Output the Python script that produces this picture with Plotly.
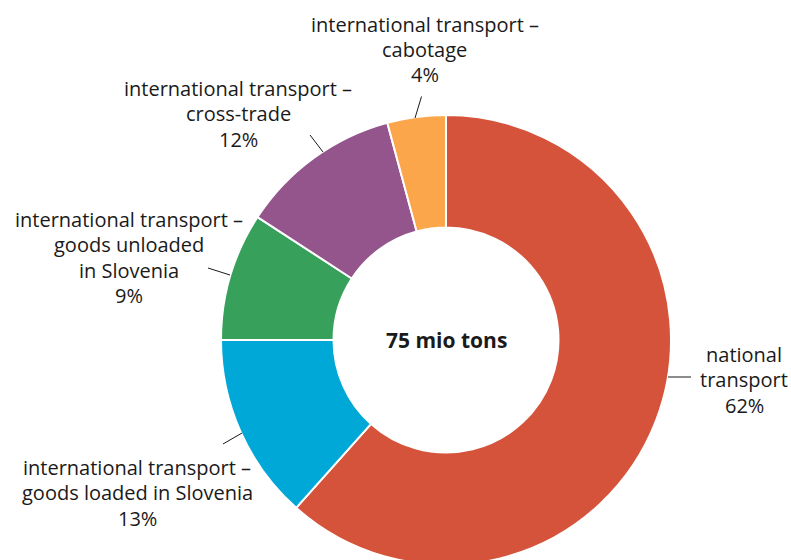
import plotly.graph_objects as go

# ---- data ----
categories = [
    "national transport",
    "international transport – goods loaded in Slovenia",
    "international transport – goods unloaded in Slovenia",
    "international transport – cross-trade",
    "international transport – cabotage",
]
shares = [61.6, 13.4, 9.2, 11.6, 4.2]   # % of 75 mio tons
colors = ["#D6533B", "#00A8D8", "#37A05B", "#94558D", "#FBA64B"]
label_names = [
    ["national", "transport"],
    ["international transport –", "goods loaded in Slovenia"],
    ["international transport –", "goods unloaded", "in Slovenia"],
    ["international transport –", "cross-trade"],
    ["international transport –", "cabotage"],
]
center_text = "75 mio tons"

# ---- layout geometry (pixels) ----
W, H = 791, 565
CX, CY, R = 446, 340, 225
FONT = "Open Sans"
FS = 20
LINE_H = 25.5
label_anchor = [(744, 354), (137, 467), (129, 219), (238, 88), (425, 24)]
leaders = [
    ((668, 377), (691, 377)),
    ((242, 433), (223, 444)),
    ((230, 275), (208, 268)),
    ((323, 152), (310, 135)),
    ((415, 118), (421.5, 96.5)),
]


def px(x):
    return x / W


def py(y):
    return 1 - y / H


fig = go.Figure(
    go.Pie(
        labels=categories,
        values=shares,
        sort=False,
        direction="clockwise",
        rotation=0,
        hole=0.5,
        marker=dict(colors=colors, line=dict(color="white", width=2)),
        textinfo="none",
        hoverinfo="label+percent",
        showlegend=False,
        domain=dict(x=[px(CX - R), px(CX + R)], y=[py(CY + R), py(CY - R)]),
    )
)

total = sum(shares)
annotations = []
for names, v, (ax_, ay_) in zip(label_names, shares, label_anchor):
    lines = names + [f"{round(100 * v / total)}%"]
    for i, t in enumerate(lines):
        annotations.append(
            dict(
                x=px(ax_), y=py(ay_ + i * LINE_H), xref="paper", yref="paper",
                text=t, showarrow=False, xanchor="center", yanchor="middle",
                font=dict(family=FONT, size=FS, color="#1a1a1a"),
            )
        )
annotations.append(
    dict(
        x=px(CX), y=py(CY), xref="paper", yref="paper",
        text="<b>" + center_text + "</b>", showarrow=False,
        xanchor="center", yanchor="middle",
        font=dict(family=FONT, size=21, color="#1a1a1a"),
    )
)

shapes = [
    dict(type="line", xref="paper", yref="paper",
         x0=px(a[0]), y0=py(a[1]), x1=px(b[0]), y1=py(b[1]),
         line=dict(color="#1a1a1a", width=1))
    for a, b in leaders
]

fig.update_layout(
    width=W, height=H,
    margin=dict(l=0, r=0, t=0, b=0),
    paper_bgcolor="white", plot_bgcolor="white",
    annotations=annotations, shapes=shapes,
)

fig.write_html(
    "out.html",
    config={"displayModeBar": False},
    post_script="document.body.style.margin='0';document.body.style.overflow='hidden';",
)
